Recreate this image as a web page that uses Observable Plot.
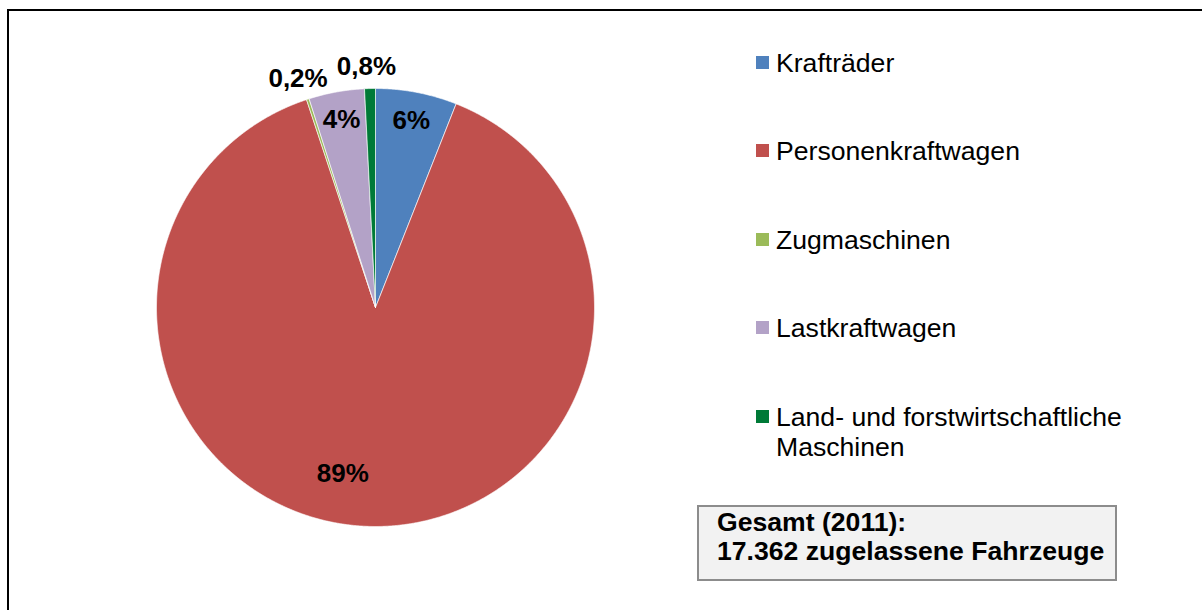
<!DOCTYPE html>
<html>
<head>
<meta charset="utf-8">
<script src="https://cdn.jsdelivr.net/npm/d3@7"></script>
<script src="https://cdn.jsdelivr.net/npm/@observablehq/plot@0.6"></script>
<style>
  html, body { margin: 0; padding: 0; background: #fff; }
  #wrap { position: relative; width: 1202px; height: 610px; overflow: hidden; font-family: Arial, "Liberation Sans", sans-serif; }
  #frame { position: absolute; left: 7px; top: 9px; width: 1300px; height: 700px; border-left: 2px solid #000; border-top: 2px solid #000; box-sizing: border-box; pointer-events: none; }
  #chart { position: absolute; left: 0; top: 0; }
  .leg { position: absolute; left: 756px; width: 440px; font-size: 26.6px; line-height: 30px; color: #000; }
  .leg .sw { position: absolute; left: 0; top: 8px; width: 13px; height: 13px; }
  .leg .tx { position: absolute; left: 20px; top: 0; width: 390px; }
  #box { position: absolute; left: 697px; top: 505px; width: 420px; height: 76px; box-sizing: border-box; border: 2.5px solid #8c8c8c; background: #f2f2f2; font-weight: bold; font-size: 26.6px; line-height: 29px; padding-left: 18px; padding-top: 1px; color: #000; }
</style>
</head>
<body>
<div id="wrap">
  <div id="chart"></div>
  <div id="frame"></div>
</div>
<script>
// ---- data ----
const categories = ["Krafträder", "Personenkraftwagen", "Zugmaschinen", "Lastkraftwagen", "Land- und forstwirtschaftliche Maschinen"];
const shares = [6.0, 88.9, 0.2, 4.1, 0.8];
const shareLabels = ["6%", "89%", "0,2%", "4%", "0,8%"];
const colors = ["#4f81bd", "#c0504d", "#9bbb59", "#b3a2c7", "#007a37"];
const totalTitle = "Gesamt (2011):";
const totalText = "17.362 zugelassene Fahrzeuge";

// ---- layout ----
const W = 1202, H = 610;
const cx = 375, cy = 307, R = 219;

// build slice polygons (unit circle, clockwise from top)
const total = d3.sum(shares);
let acc = 0;
const slices = categories.map((name, i) => {
  const a0 = acc / total * 2 * Math.PI;
  acc += shares[i];
  const a1 = acc / total * 2 * Math.PI;
  return {name, share: shares[i], label: shareLabels[i], a0, a1, mid: (a0 + a1) / 2};
});
const pts = [];
for (const s of slices) {
  pts.push({name: s.name, x: 0, y: 0});
  const n = Math.max(2, Math.ceil((s.a1 - s.a0) / (Math.PI / 720)));
  for (let k = 0; k <= n; k++) {
    const a = s.a0 + (s.a1 - s.a0) * k / n;
    pts.push({name: s.name, x: Math.sin(a), y: Math.cos(a)});
  }
  pts.push({name: s.name, x: 0, y: 0});
}
const pos = (s, r) => ({...s, x: r * Math.sin(s.mid), y: r * Math.cos(s.mid)});
const inside = slices.filter(s => s.share >= 1 && s.share < 50).map(s => pos(s, 0.87));
const outside = slices.filter(s => s.share < 1).map(s => pos(s, 1.1));
const big = slices.filter(s => s.share >= 50).map(s => pos(s, 0.76));

const textStyle = {text: "label", fontSize: 26, fontWeight: "bold", fontFamily: "Arial, 'Liberation Sans', sans-serif", fill: "#000", textAnchor: "middle"};

const plot = Plot.plot({
  width: W, height: H,
  margin: 0,
  x: {domain: [-cx / R, (W - cx) / R], range: [0, W], axis: null},
  y: {domain: [-(H - cy) / R, cy / R], range: [H, 0], axis: null},
  color: {domain: categories, range: colors},
  style: {background: "transparent", overflow: "visible"},
  marks: [
    Plot.line(pts, {x: "x", y: "y", z: "name", fill: "name", stroke: "#ffffff", strokeWidth: 0.8, strokeOpacity: 0.8, curve: "linear"}),
    Plot.text(inside, {x: "x", y: "y", ...textStyle}),
    Plot.text(outside, {x: "x", y: "y", dx: -3, ...textStyle}),
    Plot.text(big, {x: "x", y: "y", dx: -28, ...textStyle})
  ]
});
document.getElementById("chart").appendChild(plot);

// legend
const wrap = document.getElementById("wrap");
categories.forEach((c, i) => {
  const d = document.createElement("div");
  d.className = "leg";
  d.style.top = (47.5 + i * 88.6) + "px";
  const sw = document.createElement("div");
  sw.className = "sw";
  sw.style.background = colors[i];
  const tx = document.createElement("div");
  tx.className = "tx";
  tx.textContent = c;
  d.appendChild(sw); d.appendChild(tx);
  wrap.appendChild(d);
});

// total box
const box = document.createElement("div");
box.id = "box";
const l1 = document.createElement("div"); l1.textContent = totalTitle;
const l2 = document.createElement("div"); l2.textContent = totalText;
box.appendChild(l1); box.appendChild(l2);
wrap.appendChild(box);
</script>
</body>
</html>
